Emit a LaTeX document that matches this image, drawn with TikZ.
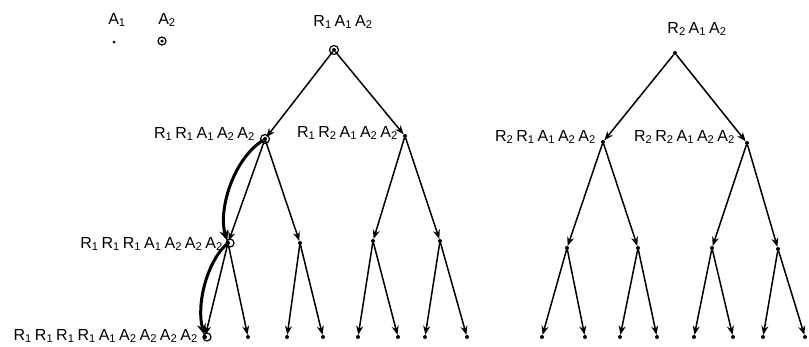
\documentclass[tikz,border=0pt]{standalone}
\usepackage{fontspec}
\setmainfont{Liberation Sans}
\usetikzlibrary{arrows.meta}
\newcommand\sy[2]{#1\textsubscript{#2}}
\newcommand\gp{\kern3pt}
\begin{document}
\begin{tikzpicture}[x=1pt,y=-1pt,
  pt/.style={circle,fill,inner sep=0pt,minimum size=4pt},
  lab/.style={font=\fontsize{16}{18}\selectfont,inner sep=0pt},
  edge/.style={line width=1.5pt,-{Stealth[length=9pt,width=7pt]}},
  curv/.style={line width=3pt,-{Stealth[length=11pt,width=9pt]}},
  ring/.style={circle,draw,line width=1.2pt,inner sep=0pt,minimum size=9pt}]
\useasboundingbox (0,0) rectangle (809,346);
% legend
\node[lab] (la1) at (117,20) {\sy{A}{1}};
\node[lab] (la2) at (167,20) {\sy{A}{2}};
\node[pt,minimum size=3pt] (d1) at (114,42) {};
\node[pt,minimum size=3.5pt] (d2) at (162,41) {};
\node[ring,minimum size=8pt] (d2r) at (162,41) {};
% left tree nodes
\node[pt] (r1) at (334,50) {};
\node[ring] (r1c) at (334,50) {};
\node[pt] (a) at (265,139) {};
\node[ring] (ac) at (265,139) {};
\node[pt] (b) at (405,136) {};
\node[pt] (a1) at (228,243) {};
\node[ring,minimum size=8pt] (a1c) at (230,243) {};
\node[pt] (a2) at (300,243) {};
\node[pt] (b1) at (373,241) {};
\node[pt] (b2) at (440,241) {};
\node[pt] (l1) at (205,337) {};
\node[ring,minimum size=8pt] (l1c) at (207,337) {};
\node[pt] (l2) at (248,337) {};
\node[pt] (l3) at (287,337) {};
\node[pt] (l4) at (323,337) {};
\node[pt] (l5) at (358,337) {};
\node[pt] (l6) at (398,337) {};
\node[pt] (l7) at (425,337) {};
\node[pt] (l8) at (467,337) {};
% right tree nodes
\node[pt] (r2) at (675,53) {};
\node[pt] (c) at (603,142) {};
\node[pt] (d) at (747,143) {};
\node[pt] (c1) at (567,248) {};
\node[pt] (c2) at (638,248) {};
\node[pt] (d1n) at (712,248) {};
\node[pt] (d2n) at (778,249) {};
\node[pt] (m1) at (542,337) {};
\node[pt] (m2) at (585,337) {};
\node[pt] (m3) at (620,337) {};
\node[pt] (m4) at (657,337) {};
\node[pt] (m5) at (694,337) {};
\node[pt] (m6) at (733,337) {};
\node[pt] (m7) at (763,337) {};
\node[pt] (m8) at (805,337) {};
% labels
\node[lab] (tr1) at (343,22) {\sy{R}{1}\gp\sy{A}{1}\gp\sy{A}{2}};
\node[lab] (tr2) at (697,29) {\sy{R}{2}\gp\sy{A}{1}\gp\sy{A}{2}};
\node[lab,anchor=east] (ta) at (255,134) {\sy{R}{1}\gp\sy{R}{1}\gp\sy{A}{1}\gp\sy{A}{2}\gp\sy{A}{2}};
\node[lab,anchor=east] (tb) at (398,133) {\sy{R}{1}\gp\sy{R}{2}\gp\sy{A}{1}\gp\sy{A}{2}\gp\sy{A}{2}};
\node[lab,anchor=east] (tc) at (596,137) {\sy{R}{2}\gp\sy{R}{1}\gp\sy{A}{1}\gp\sy{A}{2}\gp\sy{A}{2}};
\node[lab,anchor=east] (td) at (735,137) {\sy{R}{2}\gp\sy{R}{2}\gp\sy{A}{1}\gp\sy{A}{2}\gp\sy{A}{2}};
\node[lab,anchor=east] (ta1) at (223,244) {\sy{R}{1}\gp\sy{R}{1}\gp\sy{R}{1}\gp\sy{A}{1}\gp\sy{A}{2}\gp\sy{A}{2}\gp\sy{A}{2}};
\node[lab,anchor=east] (tl1) at (198,336) {\sy{R}{1}\gp\sy{R}{1}\gp\sy{R}{1}\gp\sy{R}{1}\gp\sy{A}{1}\gp\sy{A}{2}\gp\sy{A}{2}\gp\sy{A}{2}\gp\sy{A}{2}};
% edges left
\draw[edge] (r1) -- (a);
\draw[edge] (r1) -- (b);
\draw[edge] (a) -- (a1);
\draw[edge] (a) -- (a2);
\draw[edge] (b) -- (b1);
\draw[edge] (b) -- (b2);
\draw[edge] (a1) -- (l1);
\draw[edge] (a1) -- (l2);
\draw[edge] (a2) -- (l3);
\draw[edge] (a2) -- (l4);
\draw[edge] (b1) -- (l5);
\draw[edge] (b1) -- (l6);
\draw[edge] (b2) -- (l7);
\draw[edge] (b2) -- (l8);
\draw[curv] (a) .. controls (232,160) and (218,212) .. (a1);
\draw[curv] (a1) .. controls (207,262) and (196,305) .. (l1);
% edges right
\draw[edge] (r2) -- (c);
\draw[edge] (r2) -- (d);
\draw[edge] (c) -- (c1);
\draw[edge] (c) -- (c2);
\draw[edge] (d) -- (d1n);
\draw[edge] (d) -- (d2n);
\draw[edge] (c1) -- (m1);
\draw[edge] (c1) -- (m2);
\draw[edge] (c2) -- (m3);
\draw[edge] (c2) -- (m4);
\draw[edge] (d1n) -- (m5);
\draw[edge] (d1n) -- (m6);
\draw[edge] (d2n) -- (m7);
\draw[edge] (d2n) -- (m8);
\end{tikzpicture}
\end{document}
